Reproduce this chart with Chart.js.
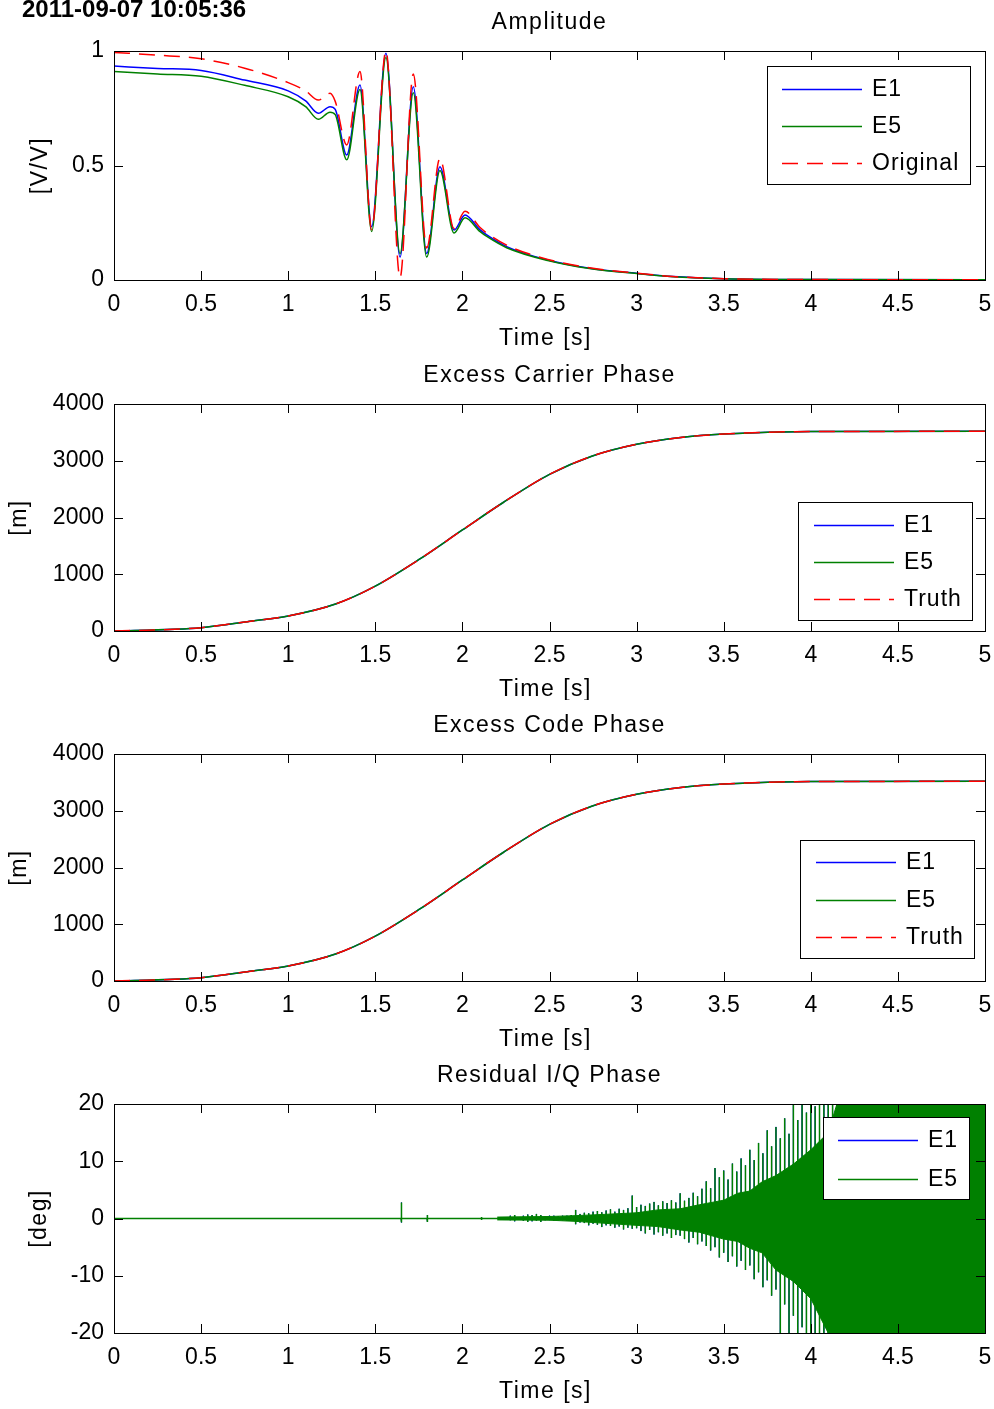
<!DOCTYPE html>
<html>
<head>
<meta charset="utf-8">
<script src="https://cdn.jsdelivr.net/npm/chart.js@4.4.1/dist/chart.umd.min.js"></script>
<style>
  html, body { margin: 0; padding: 0; background: #fff; }
  #wrap { position: relative; width: 994px; height: 1409px; overflow: hidden; }
  canvas { position: absolute; left: 0; }
</style>
</head>
<body>
<div id="wrap">
  <canvas id="amp" width="994" height="350" style="top:0px"></canvas>
  <canvas id="carrier" width="994" height="350" style="top:350px"></canvas>
  <canvas id="code" width="994" height="350" style="top:700px"></canvas>
  <canvas id="resid" width="994" height="359" style="top:1050px"></canvas>
</div>
<script>
// ---- data ----
const timeTicks = [0, 0.5, 1, 1.5, 2, 2.5, 3, 3.5, 4, 4.5, 5];

// Amplitude [V/V]
const ampT    = [0, 0.25, 0.5, 0.75, 1.0, 1.1, 1.173, 1.24, 1.27, 1.336, 1.412, 1.479, 1.561, 1.642, 1.718, 1.795, 1.871, 1.952, 2.015, 2.1, 2.14, 2.254, 2.49, 2.73, 3.0, 3.21, 3.5, 4.0, 5.0];
const ampE1   = [0.934, 0.924, 0.915, 0.873, 0.826, 0.782, 0.728, 0.757, 0.745, 0.546, 0.852, 0.233, 0.99, 0.10, 0.844, 0.116, 0.495, 0.218, 0.284, 0.22, 0.197, 0.146, 0.087, 0.051, 0.029, 0.015, 0.006, 0.002, 0.001];
const ampE5   = [0.910, 0.900, 0.890, 0.850, 0.800, 0.757, 0.702, 0.733, 0.722, 0.525, 0.832, 0.212, 0.972, 0.115, 0.818, 0.100, 0.478, 0.205, 0.272, 0.212, 0.190, 0.141, 0.085, 0.050, 0.028, 0.014, 0.006, 0.002, 0.001];
const ampOrig = [0.994, 0.982, 0.966, 0.925, 0.862, 0.826, 0.786, 0.815, 0.78, 0.59, 0.91, 0.22, 1.0, 0.01, 0.90, 0.14, 0.531, 0.225, 0.30, 0.23, 0.205, 0.152, 0.09, 0.053, 0.030, 0.015, 0.006, 0.002, 0.001];

// Excess carrier phase [m]
const carrierT     = [0, 0.35, 0.5, 0.765, 1.0, 1.276, 1.5, 1.754, 2.0, 2.232, 2.5, 2.742, 3.0, 3.253, 3.5, 4.0, 5.0];
const carrierTruth = [0, 30, 59, 165, 265, 480, 790, 1265, 1780, 2260, 2760, 3080, 3290, 3410, 3470, 3515, 3518];
const carrierE1    = [0, 30, 59, 165, 265, 480, 790, 1265, 1780, 2260, 2760, 3080, 3290, 3410, 3470, 3515, 3518];
const carrierE5    = [0, 30, 59, 165, 265, 480, 790, 1265, 1780, 2260, 2760, 3080, 3290, 3410, 3470, 3515, 3518];

// Excess code phase [m]
const codeT     = [0, 0.35, 0.5, 0.765, 1.0, 1.276, 1.5, 1.754, 2.0, 2.232, 2.5, 2.742, 3.0, 3.253, 3.5, 4.0, 5.0];
const codeTruth = [0, 30, 59, 165, 265, 480, 790, 1265, 1780, 2260, 2760, 3080, 3290, 3410, 3470, 3515, 3518];
const codeE1    = [0, 30, 59, 165, 265, 480, 790, 1265, 1780, 2260, 2760, 3080, 3290, 3410, 3470, 3515, 3518];
const codeE5    = [0, 30, 59, 165, 265, 480, 790, 1265, 1780, 2260, 2760, 3080, 3290, 3410, 3470, 3515, 3518];

// Residual I/Q phase [deg]: spike tops / bottoms at each time
const resT  = [0, 1.644, 1.648, 1.652, 1.793, 1.797, 1.801, 2.100, 2.110, 2.120, 2.200,
  2.225, 2.250, 2.275, 2.300, 2.325, 2.350, 2.375, 2.400, 2.425, 2.450, 2.475, 2.500, 2.525, 2.550, 2.575, 2.600,
  2.625, 2.650, 2.675, 2.700, 2.725, 2.750, 2.775, 2.800, 2.825, 2.850, 2.875, 2.900, 2.925, 2.950, 2.975, 3.000,
  3.025, 3.050, 3.075, 3.100, 3.125, 3.150, 3.175, 3.200, 3.225, 3.250, 3.275, 3.300, 3.325, 3.350, 3.375, 3.400,
  3.425, 3.450, 3.475, 3.500, 3.525, 3.550, 3.575, 3.600, 3.625, 3.650, 3.675, 3.700, 3.725, 3.750, 3.775, 3.800,
  3.825, 3.850, 3.875, 3.900, 3.925, 3.950, 3.975, 4.000, 4.025, 4.050, 4.075, 4.100, 4.125, 4.150, 4.175, 4.200];
const resHi = [0, 0, 2.8, 0, 0, 0.6, 0, 0, 0.25, 0, 0,
  0, 0.2, 0.5, 0.6, 0.2, 0.5, 0.7, 0.6, 0.8, 0.6, 0.4, 0.5, 0.5, 0.4, 0.5, 0.5,
  0.6, 1.5, 0.8, 1.0, 0.9, 1.2, 1.3, 1.1, 1.4, 1.6, 1.2, 1.7, 1.5, 1.8, 4.0, 2.0,
  2.4, 2.2, 2.6, 2.9, 2.3, 3.0, 2.7, 3.2, 2.8, 4.4, 3.1, 3.6, 4.5, 3.9, 5.2, 6.5,
  5.3, 8.8, 7.2, 8.4, 6.8, 9.6, 8.2, 10.5, 9.3, 12.0, 10.2, 13.2, 11.4, 15.4, 12.6, 16.0,
  14.0, 17.5, 14.8, 24.0, 17.2, 25.0, 18.5, 25.0, 19.6, 25.0, 21.0, 25.0, 25.0, 22.0, 25.0, 25.0];
const resLo = [0, 0, -0.7, 0, 0, -0.6, 0, 0, -0.25, 0, 0,
  0, -0.2, -0.3, -0.5, -0.2, -0.4, -0.6, -0.5, -0.4, -0.6, -0.3, -0.3, -0.4, -0.3, -0.3, -0.4,
  -0.4, -1.0, -0.7, -0.8, -1.2, -0.9, -1.1, -1.5, -1.2, -1.3, -1.6, -1.4, -1.9, -1.6, -1.8, -1.7,
  -2.2, -2.6, -2.0, -2.8, -2.4, -3.0, -2.6, -3.4, -2.9, -3.0, -3.6, -4.2, -3.4, -4.5, -4.0, -4.8,
  -5.6, -5.0, -6.8, -6.0, -7.6, -6.6, -8.4, -7.4, -9.0, -8.2, -10.6, -9.4, -12.0, -10.8, -13.5, -12.4,
  -21.0, -15.0, -24.0, -17.0, -25.0, -19.0, -25.0, -22.0, -25.0, -25.0, -25.0, -25.0, -25.0, -25.0, -25.0, -25.0];
// solid core of the noise band
const resCoreT  = [2.2, 2.5, 2.65, 2.8, 3.0, 3.12, 3.25, 3.36, 3.5, 3.58, 3.65, 3.72, 3.8, 3.9, 4.0, 4.1, 4.2];
const resCoreHi = [0.25, 0.35, 0.5, 0.7, 1.0, 1.5, 1.7, 2.4, 3.2, 4.4, 4.8, 6.4, 7.5, 9.5, 12, 15, 25];
const resCoreLo = [-0.25, -0.3, -0.5, -0.8, -1.2, -1.4, -2.0, -2.4, -3.6, -4.0, -5.2, -6.0, -9, -11, -14, -20, -25];
// fully saturated part at the end
const resBlockT  = [4.2, 5.0];
const resBlockHi = [25, 25];
const resBlockLo = [-25, -25];

const BLUE = '#0000ff', GREEN = '#008000', RED = '#ff0000';
const FONT = '"Liberation Sans", Arial, Helvetica, sans-serif';

Chart.defaults.font.family = FONT;
Chart.defaults.font.size = 23;
Chart.defaults.color = '#000';

function xy(xs, ys) {
  return xs.map((x, i) => ({ x: x, y: ys[i] }));
}

// vertical spike at every time, path returns to zero in between
function spikes(ts, hi, lo) {
  const out = [];
  ts.forEach((t, i) => {
    out.push({ x: t, y: 0 }, { x: t, y: hi[i] }, { x: t, y: lo[i] }, { x: t, y: 0 });
  });
  return out;
}

// MATLAB style box, inward ticks, titles and legend
const matlabAxes = {
  id: 'matlab',
  afterDatasetsDraw(chart, args, o) {
    const ctx = chart.ctx, a = chart.chartArea;
    const sx = chart.scales.x, sy = chart.scales.y;
    ctx.save();
    ctx.setLineDash([]);
    ctx.strokeStyle = '#000';
    ctx.lineWidth = 1;
    ctx.strokeRect(Math.round(a.left) + 0.5, Math.round(a.top) + 0.5,
      Math.round(a.right - a.left), Math.round(a.bottom - a.top));
    const L = 9;
    ctx.beginPath();
    sx.ticks.forEach(t => {
      const p = Math.round(sx.getPixelForValue(t.value)) + 0.5;
      ctx.moveTo(p, a.bottom); ctx.lineTo(p, a.bottom - L);
      ctx.moveTo(p, a.top); ctx.lineTo(p, a.top + L);
    });
    sy.ticks.forEach(t => {
      const p = Math.round(sy.getPixelForValue(t.value)) + 0.5;
      ctx.moveTo(a.left, p); ctx.lineTo(a.left + L, p);
      ctx.moveTo(a.right, p); ctx.lineTo(a.right - L, p);
    });
    ctx.stroke();

    // legend
    const b = o.box;
    ctx.fillStyle = '#fff';
    ctx.fillRect(b.x, b.y, b.w, b.h);
    ctx.strokeRect(b.x + 0.5, b.y + 0.5, b.w, b.h);
    ctx.font = '23px ' + FONT;
    ctx.letterSpacing = '1px';
    ctx.textBaseline = 'middle';
    ctx.textAlign = 'left';
    o.items.forEach((it, i) => {
      const y = b.rows[i] + 0.5;
      ctx.strokeStyle = it.color;
      ctx.lineWidth = 1.5;
      ctx.setLineDash(it.dash || []);
      ctx.beginPath();
      ctx.moveTo(b.lx[0], y); ctx.lineTo(b.lx[1], y);
      ctx.stroke();
      ctx.fillStyle = '#000';
      ctx.fillText(it.label, b.tx, b.rows[i] + 1);
    });
    ctx.setLineDash([]);

    // titles
    const cx = (a.left + a.right) / 2;
    ctx.letterSpacing = '1.5px';
    ctx.textAlign = 'center';
    ctx.textBaseline = 'alphabetic';
    ctx.fillText(o.title, cx, a.top - 22);
    ctx.fillText('Time [s]', cx - 4, a.bottom + 65);
    ctx.save();
    ctx.translate(o.ylabelX, (a.top + a.bottom) / 2);
    ctx.rotate(-Math.PI / 2);
    ctx.textBaseline = 'middle';
    ctx.fillText(o.ylabel, 0, 0);
    ctx.restore();
    if (o.stamp) {
      ctx.font = 'bold 24px ' + FONT;
      ctx.letterSpacing = '0px';
      ctx.textAlign = 'left';
      ctx.fillText(o.stamp, 22, 17);
    }
    ctx.restore();
  }
};

function makeChart(id, datasets, yMin, yMax, yStep, bottomH, topPad, plug) {
  return new Chart(document.getElementById(id), {
    type: 'line',
    data: { datasets: datasets },
    plugins: [matlabAxes],
    options: {
      responsive: false,
      animation: false,
      devicePixelRatio: 1,
      layout: { padding: { top: topPad, right: 9, left: 0, bottom: 0 } },
      elements: { point: { radius: 0 } },
      plugins: { legend: { display: false }, tooltip: { enabled: false }, matlab: plug },
      scales: {
        x: {
          type: 'linear', min: 0, max: 5,
          afterBuildTicks: s => { s.ticks = timeTicks.map(v => ({ value: v })); },
          ticks: { padding: 11, maxRotation: 0, autoSkip: false, callback: v => String(v) },
          grid: { display: false, drawTicks: false },
          border: { display: false },
          afterFit: s => { s.height = bottomH; s.paddingLeft = 0; s.paddingRight = 0; }
        },
        y: {
          min: yMin, max: yMax,
          ticks: { stepSize: yStep, padding: 10, callback: v => String(v) },
          grid: { display: false, drawTicks: false },
          border: { display: false },
          afterFit: s => { s.width = 114; s.paddingTop = 0; s.paddingBottom = 0; }
        }
      }
    }
  });
}

const lineDs = (label, pts, color, order, dash, mono, width) => ({
  label: label, data: pts, borderColor: color, borderWidth: width || 1.5,
  borderDash: dash || [], order: order, fill: false,
  cubicInterpolationMode: mono ? 'monotone' : 'default', tension: 0
});

makeChart('amp', [
  lineDs('E1', xy(ampT, ampE1), BLUE, 2, null, true),
  lineDs('E5', xy(ampT, ampE5), GREEN, 1, null, true),
  lineDs('Original', xy(ampT, ampOrig), RED, 0, [16, 9], true)
], 0, 1, 0.5, 70, 51, {
  title: 'Amplitude', ylabel: '[V/V]', ylabelX: 41, stamp: '2011-09-07 10:05:36',
  box: { x: 767, y: 66, w: 203, h: 118, rows: [89, 126, 163], lx: [782, 862], tx: 872 },
  items: [{ label: 'E1', color: BLUE }, { label: 'E5', color: GREEN }, { label: 'Original', color: RED, dash: [16, 9] }]
});

makeChart('carrier', [
  lineDs('E1', xy(carrierT, carrierE1), BLUE, 2, null, true),
  lineDs('E5', xy(carrierT, carrierE5), GREEN, 1, null, true),
  lineDs('Truth', xy(carrierT, carrierTruth), RED, 0, [16, 9], true)
], 0, 4000, 1000, 69, 54, {
  title: 'Excess Carrier Phase', ylabel: '[m]', ylabelX: 20,
  box: { x: 798, y: 152, w: 174, h: 118, rows: [175, 212, 249], lx: [814, 894], tx: 904 },
  items: [{ label: 'E1', color: BLUE }, { label: 'E5', color: GREEN }, { label: 'Truth', color: RED, dash: [16, 9] }]
});

makeChart('code', [
  lineDs('E1', xy(codeT, codeE1), BLUE, 2, null, true),
  lineDs('E5', xy(codeT, codeE5), GREEN, 1, null, true),
  lineDs('Truth', xy(codeT, codeTruth), RED, 0, [16, 9], true)
], 0, 4000, 1000, 69, 54, {
  title: 'Excess Code Phase', ylabel: '[m]', ylabelX: 20,
  box: { x: 800, y: 140, w: 174, h: 118, rows: [162, 200, 237], lx: [816, 896], tx: 906 },
  items: [{ label: 'E1', color: BLUE }, { label: 'E5', color: GREEN }, { label: 'Truth', color: RED, dash: [16, 9] }]
});

makeChart('resid', [
  lineDs('E1', spikes(resT, resHi, resLo), BLUE, 5, null, false, 1),
  lineDs('E5', spikes(resT, resHi, resLo), GREEN, 4, null, false, 1.5),
  {
    label: 'E5 core', data: xy(resCoreT, resCoreHi), borderColor: GREEN, borderWidth: 1,
    backgroundColor: GREEN, fill: '+1', order: 3, tension: 0
  },
  {
    label: 'E5 core low', data: xy(resCoreT, resCoreLo), borderColor: GREEN, borderWidth: 1,
    backgroundColor: GREEN, fill: false, order: 2, tension: 0
  },
  {
    label: 'E5 saturated', data: xy(resBlockT, resBlockHi), borderColor: GREEN, borderWidth: 1,
    backgroundColor: GREEN, fill: { value: resBlockLo[0] }, order: 1, tension: 0
  }
], -20, 20, 10, 76, 54, {
  title: 'Residual I/Q Phase', ylabel: '[deg]', ylabelX: 40,
  box: { x: 823, y: 67, w: 146, h: 82, rows: [90, 129], lx: [838, 918], tx: 928 },
  items: [{ label: 'E1', color: BLUE }, { label: 'E5', color: GREEN }]
});
</script>
</body>
</html>
